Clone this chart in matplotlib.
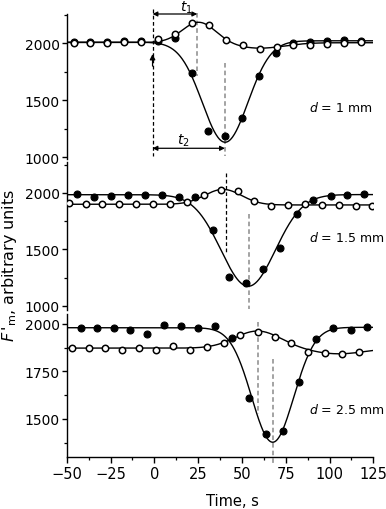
import numpy as np
import matplotlib
matplotlib.use("Agg")
import matplotlib.pyplot as plt
from matplotlib.ticker import FixedLocator

plt.rcParams['font.family'] = ['DejaVu Sans']
plt.rcParams['mathtext.fontset'] = 'dejavusans'

# ---------------- data ----------------
# d = 1 mm
t_open_1 = [-46, -36.5, -27, -17.2, -7.7, 2.2, 12.1, 21.6, 31.2, 40.7, 50.4, 60.3, 69.9, 79.4, 88.9, 98.4, 108.3, 117.8]
f_open_1 = [2003, 2003, 2005, 2009, 2011, 2038, 2084, 2175, 2160, 2029, 1985, 1953, 1965, 1988, 1988, 1994, 2003, 2014]
t_fill_1 = [-46, -36.5, -27, -17.2, -7.7, 2.2, 12.1, 21.3, 30.8, 40.3, 50.2, 59.8, 69.6, 79.4, 88.9, 98.4, 108.3, 117.8]
f_fill_1 = [2010, 2012, 2015, 2018, 2016, 2020, 2048, 1737, 1234, 1190, 1342, 1711, 1918, 2000, 2009, 2023, 2032, 2023]

# d = 1.5 mm
t_open_2 = [-48.9, -39.2, -29.6, -19.9, -10.2, -0.7, 9.0, 18.8, 28.3, 37.8, 47.7, 57.1, 66.6, 76.3, 86.0, 95.8, 105.3, 115.0, 124.5]
f_open_2 = [1908, 1902, 1902, 1899, 1899, 1899, 1902, 1917, 1985, 2027, 2015, 1932, 1882, 1893, 1905, 1896, 1893, 1887, 1887]
t_fill_2 = [-44.1, -34.6, -24.9, -15.2, -5.4, 4.3, 14.0, 23.5, 33.3, 42.8, 52.3, 61.9, 71.8, 81.3, 90.8, 100.7, 110.1, 119.6]
f_fill_2 = [1991, 1962, 1976, 1985, 1985, 1985, 1962, 1967, 1675, 1252, 1204, 1326, 1509, 1814, 1941, 1976, 1982, 1988]

# d = 2.5 mm
t_open_3 = [-47.0, -37.5, -27.9, -18.4, -8.7, 0.9, 10.7, 20.3, 29.8, 39.6, 49.1, 59.0, 68.7, 78.2, 88.0, 97.5, 107.0, 116.9]
f_open_3 = [1873, 1873, 1871, 1864, 1871, 1864, 1881, 1864, 1876, 1897, 1942, 1955, 1930, 1897, 1853, 1846, 1841, 1853]
t_fill_3 = [-42.0, -32.7, -23.2, -13.6, -3.9, 5.6, 15.2, 24.9, 34.4, 44.5, 54.0, 63.6, 73.3, 82.8, 92.3, 102.2, 112.0, 121.5]
f_fill_3 = [1977, 1976, 1976, 1965, 1946, 1992, 1988, 1977, 1987, 1925, 1609, 1421, 1439, 1696, 1920, 1976, 1969, 1981]

# fitted Gaussian curves: (base_left, base_right, step_center, [(amplitude, center, sigma), ...])
fit_open_1 = (2007, 2005, 40, [(180, 25.5, 9.5), (-48, 60, 14)])
fit_fill_1 = (2010, 2022, 40.5, [(-884, 40.5, 13)])
fit_open_2 = (1900, 1894, 40, [(135, 39.4, 10.5)])
fit_fill_2 = (1985, 1986, 53.6, [(-813, 53.6, 15.5)])
fit_open_3 = (1872, 1872, 60, [(90, 59, 13), (-30, 105, 15)])
fit_fill_3 = (1979, 1981, 67.6, [(-602, 67.6, 12)])

panel_labels = ["$d$ = 1 mm", "$d$ = 1.5 mm", "$d$ = 2.5 mm"]
x_ticks = [-50, -25, 0, 25, 50, 75, 100, 125]

# ---------------- layout ----------------
W, H = 386, 510
fig = plt.figure(figsize=(W / 100, H / 100), dpi=100)
L_px, R_px = 66.7, 373.3

def rect(top_px, bot_px):
    return [L_px / W, 1 - bot_px / H, (R_px - L_px) / W, (bot_px - top_px) / H]

ax1 = fig.add_axes(rect(15, 160))
ax2 = fig.add_axes(rect(163, 311))
ax3 = fig.add_axes(rect(315, 458.3))
ax1.set_ylim(985, 2257)
ax2.set_ylim(962, 2275)
ax3.set_ylim(1299, 2051)

tt = np.linspace(-50, 125, 500)

def model(p):
    bl, br, tc, comps = p
    y = bl + (br - bl) / (1 + np.exp(-(tt - tc) / 8.0))
    for a, c, s in comps:
        y = y + a * np.exp(-(tt - c) ** 2 / (2 * s ** 2))
    return y

panels = [
    (ax1, t_open_1, f_open_1, t_fill_1, f_fill_1, fit_open_1, fit_fill_1),
    (ax2, t_open_2, f_open_2, t_fill_2, f_fill_2, fit_open_2, fit_fill_2),
    (ax3, t_open_3, f_open_3, t_fill_3, f_fill_3, fit_open_3, fit_fill_3),
]

for i, (ax, to, fo, tf, ff, po, pf) in enumerate(panels):
    ax.set_xlim(-50, 125)
    ax.plot(tt, model(pf), color='black', lw=1.0, zorder=2)
    ax.plot(tt, model(po), color='black', lw=1.0, zorder=2)
    ax.plot(tf, ff, 'o', ms=5.0, mfc='black', mec='black', mew=0.8, ls='none', zorder=3)
    ax.plot(to, fo, 'o', ms=4.6, mfc='white', mec='black', mew=1.1, ls='none', zorder=4)
    for s in ['top', 'right']:
        ax.spines[s].set_visible(False)
    ax.spines['left'].set_linewidth(1.0)
    ax.tick_params(axis='y', which='major', direction='out', length=3.5, width=1.0,
                   pad=1.5, labelsize=10)
    ax.tick_params(axis='y', which='minor', direction='out', length=2.5, width=0.9)
    ax.text(88.3, [1441, 1607, 1553][i], panel_labels[i], fontsize=9,
            ha='left', va='center', clip_on=False)
    if i < 2:
        ax.spines['bottom'].set_visible(False)
        ax.tick_params(axis='x', which='both', bottom=False, labelbottom=False)

for ax in (ax1, ax2):
    ax.yaxis.set_major_locator(FixedLocator([1000, 1500, 2000]))
    ax.yaxis.set_minor_locator(FixedLocator([1250, 1750, 2250]))
ax3.yaxis.set_major_locator(FixedLocator([1500, 1750, 2000]))
ax3.yaxis.set_minor_locator(FixedLocator([1375, 1625, 1875]))

ax3.xaxis.set_major_locator(FixedLocator(x_ticks))
ax3.xaxis.set_minor_locator(FixedLocator([v + 12.5 for v in x_ticks[:-1]]))
ax3.spines['bottom'].set_linewidth(1.0)
ax3.tick_params(axis='x', which='major', direction='out', length=4.0, width=1.0,
                pad=2.5, labelsize=10.5)
ax3.tick_params(axis='x', which='minor', direction='out', length=2.5, width=0.9)

# ---------------- annotation lines ----------------
dash_k = dict(color='black', lw=0.9, ls=(0, (3, 2)), clip_on=False, zorder=1)
dash_g = dict(color='#8a8a8a', lw=1.1, ls=(0, (3, 2)), clip_on=False, zorder=1)

# top panel
ax1.plot([-1, -1], [2301, 1012], **dash_k)
ax1.plot([24.5, 24.5], [2262, 1711], **dash_g)
ax1.plot([40.3, 40.3], [1827, 1012], **dash_g)
arr = dict(arrowstyle='<|-|>', lw=0.9, color='black', mutation_scale=7,
           shrinkA=0, shrinkB=0)
ax1.annotate('', xy=(24.5, 2257), xytext=(-1, 2257), arrowprops=arr,
             annotation_clip=False)
ax1.annotate('', xy=(40.3, 1079), xytext=(-1, 1079), arrowprops=arr,
             annotation_clip=False)
ax1.annotate('', xy=(-1, 1906), xytext=(-1, 1800),
             arrowprops=dict(arrowstyle='-|>', lw=0.9, color='black',
                             mutation_scale=8, shrinkA=0, shrinkB=0),
             annotation_clip=False)
ax1.text(18.4, 2318, '$t_1$', fontsize=10, ha='center', va='center', clip_on=False)
ax1.text(16.5, 1150, '$t_2$', fontsize=10, ha='center', va='center', clip_on=False)

# middle panel
ax2.plot([40.9, 40.9], [2177, 1473], **dash_k)
ax2.plot([54.2, 54.2], [1814, 975], **dash_g)

# bottom panel
ax3.plot([59.2, 59.2], [2007, 1526], **dash_g)
ax3.plot([67.6, 67.6], [1815, 1264], **dash_g)

# axis labels
fig.text(232 / W, 1 - 502 / H, 'Time, s', fontsize=10.5, ha='center', va='center')
fig.text(10 / W, 1 - 265 / H, "$F\\,'_{\\mathrm{m}}$, arbitrary units", fontsize=11.5,
         ha='center', va='center', rotation=90)

fig.savefig('out.png', dpi=100)
